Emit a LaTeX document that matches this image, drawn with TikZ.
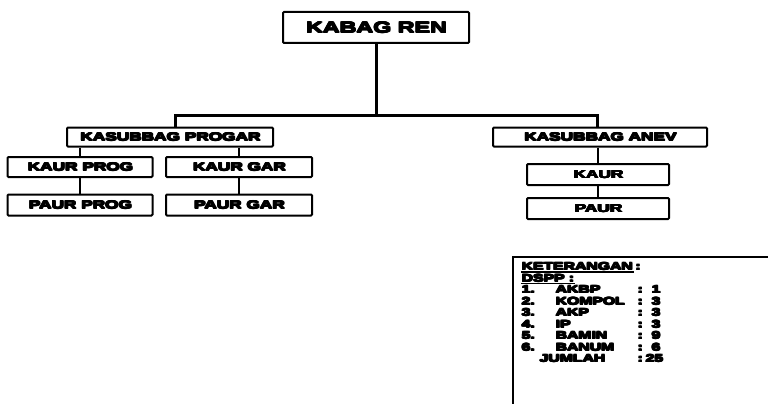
\documentclass[tikz,border=0pt]{standalone}
\usepackage{fontspec}
\usepackage{graphicx}
\newfontfamily\hv[UprightFont={* Bold}]{Liberation Sans}
\newcommand\hvy[1]{\rlap{\kern0.8pt\raisebox{0.6pt}{#1}}\rlap{\kern0.8pt #1}\rlap{\raisebox{0.6pt}{#1}}\rlap{\kern0.4pt\raisebox{0.3pt}{#1}}\rlap{\kern0.4pt #1}\rlap{\raisebox{0.3pt}{#1}}#1}
\newcommand\st[1]{\scalebox{1.5}[1]{\hvy{#1}}}
\begin{document}
\begin{tikzpicture}[x=1pt,y=-1pt,
  box/.style={draw,line width=2pt,rounded corners=1pt,inner sep=0pt,
    font=\hv\fontsize{11.5}{12}\selectfont},
  mainline/.style={line width=3pt},
  conn/.style={line width=1.3pt},
  leg/.style={anchor=base west,inner sep=0pt,font=\hv\fontsize{10.5}{11}\selectfont}
]
\useasboundingbox (0,0) rectangle (768,404);
% boxes
\node[box,minimum width=186pt,minimum height=31pt,font=\hv\fontsize{15.5}{16}\selectfont] (ren) at (376,27.5) {\st{KABAG REN}};
\node[box,minimum width=206pt,minimum height=19pt] (progar) at (170,137) {\st{KASUBBAG PROGAR}};
\node[box,minimum width=145pt,minimum height=20pt] (kprog) at (80,167) {\st{KAUR PROG}};
\node[box,minimum width=145pt,minimum height=21pt] (pprog) at (80,205) {\st{PAUR PROG}};
\node[box,minimum width=146pt,minimum height=20pt] (kgar) at (239,167) {\st{KAUR GAR}};
\node[box,minimum width=146pt,minimum height=21pt] (pgar) at (239,205) {\st{PAUR GAR}};
\node[box,minimum width=214pt,minimum height=19pt] (anev) at (600,137) {\st{KASUBBAG ANEV}};
\node[box,minimum width=142pt,minimum height=21pt] (kaur) at (598,174.5) {\st{KAUR}};
\node[box,minimum width=142pt,minimum height=21pt] (paur) at (598,208.5) {\st{PAUR}};
% connectors
\coordinate (hl) at (175,115);
\coordinate (hr) at (597,115);
\draw[mainline] (ren.south) -- (ren.south |- hl);
\draw[mainline,line join=miter] (progar.north -| hl) -- (hl) -- (hr) -- (anev.north -| hr);
\draw[conn] (progar.south -| kprog.north) -- (kprog.north);
\draw[conn] (progar.south -| kgar.north) -- (kgar.north);
\draw[conn] (kprog.south) -- (pprog.north);
\draw[conn] (kgar.south) -- (pgar.north);
\draw[conn] (anev.south -| kaur.north) -- (kaur.north);
\draw[conn] (kaur.south) -- (paur.north);
% legend
\coordinate (lb) at (513,404);
\coordinate (lt) at (513,257);
\coordinate (lr) at (768,257);
\draw[line width=2pt] (lb) -- (lt) -- (lr);
\node[leg] (k0) at (521,270.5) {\st{\underline{KETERANGAN}\,:}};
\node[leg] (k1) at (521,282) {\st{\underline{DSPP :}}};
\node[leg] (n1) at (521,293.5) {\st{1.}};
\node[leg] (n2) at (521,305) {\st{2.}};
\node[leg] (n3) at (521,316.5) {\st{3.}};
\node[leg] (n4) at (521,328) {\st{4.}};
\node[leg] (n5) at (521,339.5) {\st{5.}};
\node[leg] (n6) at (521,351) {\st{6.}};
\node[leg] (a1) at (555,293.5) {\st{AKBP}};
\node[leg] (a2) at (555,305) {\st{KOMPOL}};
\node[leg] (a3) at (555,316.5) {\st{AKP}};
\node[leg] (a4) at (555,328) {\st{IP}};
\node[leg] (a5) at (555,339.5) {\st{BAMIN}};
\node[leg] (a6) at (555,351) {\st{BANUM}};
\node[leg] (aj) at (539,362.5) {\st{JUMLAH}};
\node[leg] (c1) at (637,293.5) {\st{:\ \ 1}};
\node[leg] (c2) at (637,305) {\st{:\ \ 3}};
\node[leg] (c3) at (637,316.5) {\st{:\ \ 3}};
\node[leg] (c4) at (637,328) {\st{:\ \ 3}};
\node[leg] (c5) at (637,339.5) {\st{:\ \ 9}};
\node[leg] (c6) at (637,351) {\st{:\ \ 6}};
\node[leg] (cj) at (637,362.5) {\st{:\,25}};
\end{tikzpicture}
\end{document}
